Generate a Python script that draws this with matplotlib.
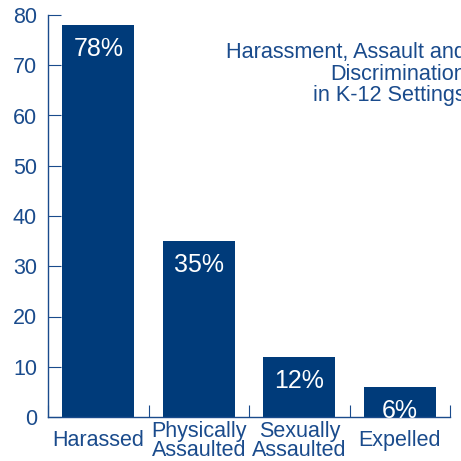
import matplotlib
matplotlib.use("Agg")
import matplotlib.pyplot as plt
import numpy as np

# Data
categories = ['Harassed', 'Physically\nAssaulted', 'Sexually\nAssaulted', 'Expelled']
values = [78, 35, 12, 6]
pct_labels = ['78%', '35%', '12%', '6%']
title_text = 'Harassment, Assault and\nDiscrimination\nin K-12 Settings'

bar_color = '#003b7a'
text_color = '#1a4b8c'

plt.rcParams['font.family'] = ['Liberation Sans', 'DejaVu Sans']

fig = plt.figure(figsize=(4.61, 4.61), dpi=100)
ax = fig.add_axes([48/461, 1-417/461, (450-48)/461, (417-15)/461])

x = np.arange(len(categories))
ax.bar(x, values, width=0.72, color=bar_color)

for xi, v, lab in zip(x, values, pct_labels):
    ax.annotate(lab, (xi, v), xytext=(0, -8.5), textcoords='offset points',
                ha='center', va='top', color='white', fontsize=18)

ax.set_xlim(-0.5, 3.5)
ax.set_ylim(0, 80)
ax.set_yticks(range(0, 81, 10))

# category boundaries as ticks, labels centred in each category
ax.set_xticks(np.arange(-0.5, 4, 1))
ax.set_xticklabels([])
ax.set_xticks(x, minor=True)
ax.set_xticklabels(categories, minor=True, fontsize=15.5, color=text_color,
                   linespacing=0.88)
ax.tick_params(axis='x', which='minor', length=0, pad=17)
for t in ax.get_xticklabels(minor=True):
    t.set_va('center')

ax.tick_params(axis='x', which='major', direction='in', length=9, color=text_color)
ax.tick_params(axis='y', direction='in', length=9, color=text_color,
               labelcolor=text_color, labelsize=15.5, pad=8)

for s in ['top', 'right']:
    ax.spines[s].set_visible(False)
for s in ['left', 'bottom']:
    ax.spines[s].set_color(text_color)
    ax.spines[s].set_linewidth(1.0)

fig.text(466/461, 1-42/461, title_text, ha='right', va='top', ma='right',
         fontsize=15.6, color=text_color, linespacing=1.04)

fig.savefig('out.png', dpi=100)
